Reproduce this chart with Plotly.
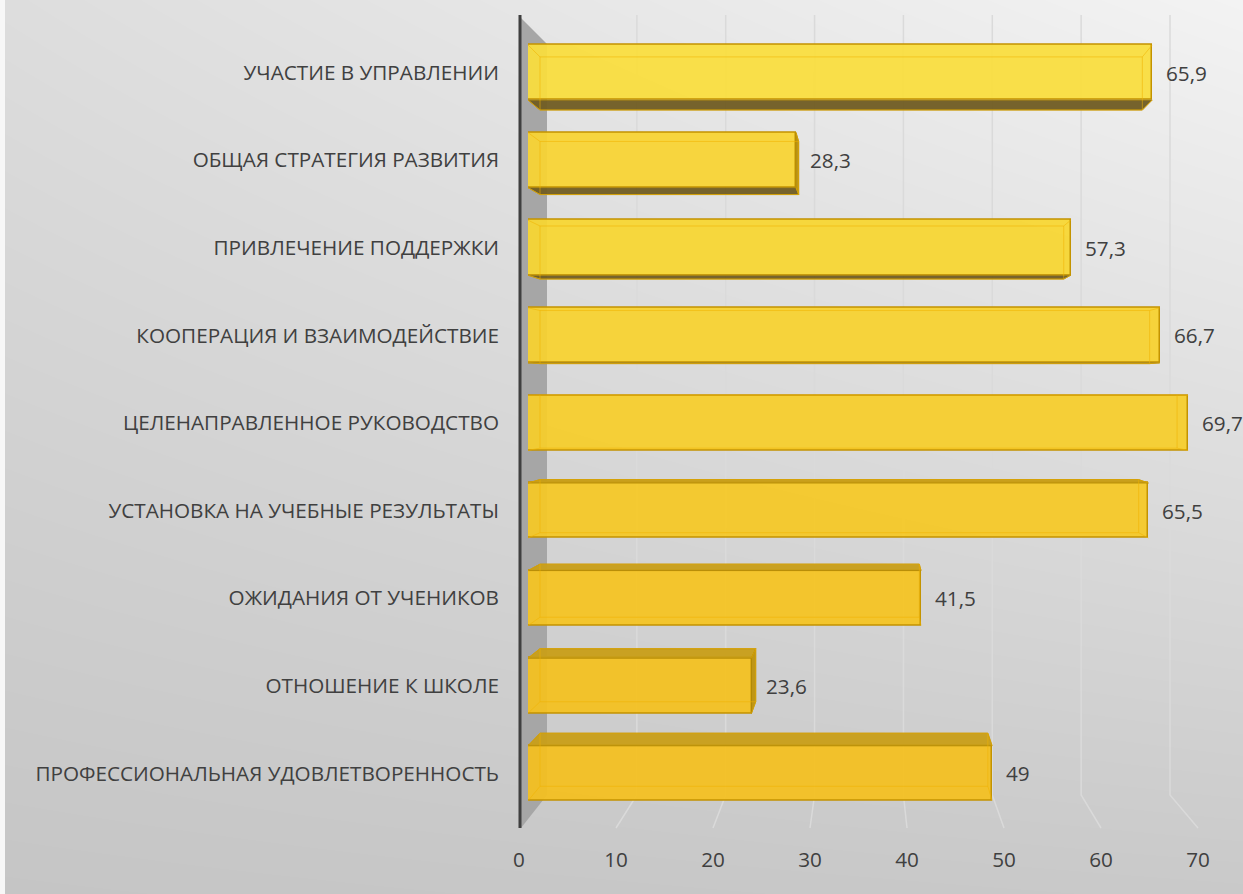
import plotly.graph_objects as go
import numpy as np

# ---------------- data ----------------
categories = [
    "УЧАСТИЕ В УПРАВЛЕНИИ",
    "ОБЩАЯ СТРАТЕГИЯ РАЗВИТИЯ",
    "ПРИВЛЕЧЕНИЕ ПОДДЕРЖКИ",
    "КООПЕРАЦИЯ И ВЗАИМОДЕЙСТВИЕ",
    "ЦЕЛЕНАПРАВЛЕННОЕ РУКОВОДСТВО",
    "УСТАНОВКА НА УЧЕБНЫЕ РЕЗУЛЬТАТЫ",
    "ОЖИДАНИЯ ОТ УЧЕНИКОВ",
    "ОТНОШЕНИЕ К ШКОЛЕ",
    "ПРОФЕССИОНАЛЬНАЯ УДОВЛЕТВОРЕННОСТЬ",
]
values = [65.9, 28.3, 57.3, 66.7, 69.7, 65.5, 41.5, 23.6, 49]
x_ticks = [0, 10, 20, 30, 40, 50, 60, 70]
value_labels = [("%g" % v).replace(".", ",") for v in values]

# ---------------- geometry / style ----------------
W, H = 1243, 894
FONT = "Open Sans"
FS = 20.7
TXT = "#404040"
XMAX = 70
# bar plane (middle depth)
X0_PX, X70_PX = 528, 1191
PPU = (X70_PX - X0_PX) / XMAX
YC0, PPC = 72.5, 87.6
BAR_W = 0.628
# front plane (tick labels) and back plane (gridlines)
F0, F70 = 519, 1198
B0, B70 = 548, 1170
G_TOP, G_BEND, G_BOT = 15, 795, 828
# perspective for bar depth
VX, VY, S = 871, 386, 0.965

bar_colors = ["rgba(250,222,60,0.93)", "rgba(249,212,50,0.93)", "rgba(248,214,48,0.93)",
              "rgba(247,210,46,0.93)", "rgba(246,206,42,0.93)", "rgba(245,200,37,0.93)",
              "rgba(245,196,32,0.93)", "rgba(244,193,30,0.93)", "rgba(244,191,30,0.93)"]

n = len(categories)
idx = list(range(n))


def to_px(xd, yd):
    return X0_PX + xd * PPU, YC0 + yd * PPC


def to_data(px, py):
    return (px - X0_PX) / PPU, (py - YC0) / PPC


def back(px, py):
    return VX + S * (px - VX), VY + S * (py - VY)


def path_from_px(pts, close=True):
    d = []
    for k, (px, py) in enumerate(pts):
        xd, yd = to_data(px, py)
        d.append(("M" if k == 0 else "L") + f"{xd:.4f},{yd:.4f}")
    return " ".join(d) + (" Z" if close else "")


fig = go.Figure()

# ---- background gradient (pixel-space subplot xy) ----
gx = np.linspace(0, W, 12)
gy = np.linspace(0, H, 12)
U, V = np.meshgrid(gx / W, gy / H)
TL, TR, BL, BR = 221, 243, 197, 201
Z = TL * (1 - U) * (1 - V) + TR * U * (1 - V) + BL * (1 - U) * V + BR * U * V
fig.add_trace(go.Heatmap(x=gx, y=gy, z=Z, zmin=0, zmax=255,
                         colorscale=[[0, "rgb(0,0,0)"], [1, "rgb(255,255,255)"]],
                         showscale=False, zsmooth="best", hoverinfo="skip",
                         xaxis="x", yaxis="y"))

# gridlines (back plane, bending to front tick positions)
for t in x_ticks[1:]:
    bx = B0 + (B70 - B0) * t / XMAX
    fx = F0 + (F70 - F0) * t / XMAX
    fig.add_trace(go.Scatter(x=[bx, bx, fx], y=[G_TOP, G_BEND, G_BOT], mode="lines",
                             line=dict(color="#dadada", width=1.5), hoverinfo="skip",
                             showlegend=False, xaxis="x", yaxis="y"))

# side wall
fig.add_trace(go.Scatter(x=[521, B0 - 1, B0 - 1, 521, 521], y=[18, 44, G_BEND, G_BOT, 18],
                         mode="lines", fill="toself", fillcolor="#a6a6a6",
                         line=dict(width=0), hoverinfo="skip", showlegend=False,
                         xaxis="x", yaxis="y"))
# axis line
fig.add_trace(go.Scatter(x=[F0 + 1, F0 + 1], y=[G_TOP, G_BOT], mode="lines",
                         line=dict(color="#3f3f3f", width=3), hoverinfo="skip",
                         showlegend=False, xaxis="x", yaxis="y"))

# ---- bars ----
fig.add_trace(go.Bar(x=values, y=idx, orientation="h", width=BAR_W,
                     marker=dict(color=bar_colors, line=dict(color="#c39300", width=1.5)),
                     hoverinfo="skip", showlegend=False, xaxis="x2", yaxis="y2"))

shapes = []
for i, v in enumerate(values):
    lx, ty = to_px(0, i - BAR_W / 2)
    rx, by = to_px(v, i + BAR_W / 2)
    fTL, fTR, fBR, fBL = (lx, ty), (rx, ty), (rx, by), (lx, by)
    bTL, bTR, bBR, bBL = back(*fTL), back(*fTR), back(*fBR), back(*fBL)
    # bottom face (bars above vanishing point)
    if bBL[1] > fBL[1] + 0.5:
        shapes.append(dict(type="path", path=path_from_px([fBL, fBR, bBR, bBL]),
                           xref="x2", yref="y2", fillcolor="rgba(112,92,34,0.95)",
                           line=dict(color="#b08a10", width=1), layer="above"))
    # top face (bars below vanishing point)
    if bTL[1] < fTL[1] - 0.5:
        shapes.append(dict(type="path", path=path_from_px([fTL, fTR, bTR, bTL]),
                           xref="x2", yref="y2", fillcolor="rgba(200,158,24,0.95)",
                           line=dict(color="#b88e08", width=1), layer="above"))
    # right face
    if bTR[0] > fTR[0] + 0.5:
        shapes.append(dict(type="path", path=path_from_px([fTR, fBR, bBR, bTR]),
                           xref="x2", yref="y2", fillcolor="rgba(190,146,12,0.95)",
                           line=dict(color="#b08a08", width=1), layer="above"))
    # back edges seen through the translucent bar
    shapes.append(dict(type="path", path=path_from_px([bTL, bTR, bBR, bBL]),
                       xref="x2", yref="y2", fillcolor="rgba(0,0,0,0)",
                       line=dict(color="rgba(240,178,0,0.55)", width=1), layer="above"))
    for a, b in [(fTL, bTL), (fTR, bTR), (fBR, bBR), (fBL, bBL)]:
        shapes.append(dict(type="path", path=path_from_px([a, b], close=False),
                           xref="x2", yref="y2",
                           line=dict(color="rgba(240,178,0,0.55)", width=1), layer="above"))

# value labels
annotations = []
for i, (v, lab) in enumerate(zip(values, value_labels)):
    annotations.append(dict(x=v, y=i, xref="x2", yref="y2", text=lab, showarrow=False,
                            xanchor="left", yanchor="middle", xshift=12,
                            font=dict(family=FONT, size=FS, color=TXT)))

# dummy trace so the front tick-label axis exists
fig.add_trace(go.Scatter(x=[0, XMAX], y=[0, 0], mode="markers", marker=dict(opacity=0),
                         hoverinfo="skip", showlegend=False, xaxis="x3", yaxis="y2"))

# left white margin
shapes.append(dict(type="rect", xref="paper", yref="paper", x0=0, x1=5 / W, y0=0, y1=1,
                   fillcolor="#f7f7f7", line=dict(width=0), layer="above"))

y2_dom = [1 - (YC0 + (n - 0.5) * PPC) / H, 1 - (YC0 - 0.5 * PPC) / H]

fig.update_layout(
    width=W, height=H, margin=dict(l=0, r=0, t=0, b=0, pad=0, autoexpand=False),
    paper_bgcolor="white", plot_bgcolor="rgba(0,0,0,0)",
    showlegend=False, bargap=0,
    xaxis=dict(domain=[0, 1], range=[0, W], visible=False, fixedrange=True, automargin=False),
    yaxis=dict(domain=[0, 1], range=[H, 0], visible=False, fixedrange=True, automargin=False),
    xaxis2=dict(domain=[X0_PX / W, X70_PX / W], range=[0, XMAX], anchor="y2",
                showgrid=False, zeroline=False, showticklabels=False, ticks="",
                showline=False, automargin=False),
    yaxis2=dict(domain=y2_dom, range=[n - 0.5, -0.5], anchor="x2",
                tickmode="array", tickvals=idx, ticktext=categories,
                showgrid=False, zeroline=False, showline=False, ticks="",
                ticklabelstandoff=28, automargin=False,
                tickfont=dict(family=FONT, size=FS, color=TXT)),
    xaxis3=dict(domain=[F0 / W, F70 / W], range=[0, XMAX], anchor="y2",
                tickmode="array", tickvals=x_ticks,
                showgrid=False, zeroline=False, showline=False, ticks="",
                ticklabelstandoff=28, automargin=False,
                tickfont=dict(family=FONT, size=FS, color=TXT)),
    shapes=shapes, annotations=annotations,
)

fig.write_html("out.html", config={"displayModeBar": False},
               post_script="document.body.style.margin='0px';document.body.style.overflow='hidden';")
